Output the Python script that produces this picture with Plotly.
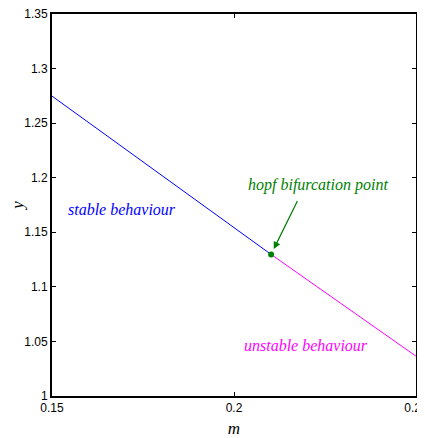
import plotly.graph_objects as go

# data
stable_m = [0.15, 0.1907, 0.2102]
stable_y = [1.2748, 1.1767, 1.1297]
unstable_m = [0.2102, 0.25]
unstable_y = [1.1297, 1.0365]
hopf_m = [0.2102]
hopf_y = [1.1297]
x_ticks = [0.15, 0.2, 0.25]
x_tick_labels = ["0.15", "0.2", "0.25"]
y_ticks = [1, 1.05, 1.1, 1.15, 1.2, 1.25, 1.3, 1.35]
y_tick_labels = ["1", "1.05", "1.1", "1.15", "1.2", "1.25", "1.3", "1.35"]

fig = go.Figure()
fig.add_trace(go.Scatter(x=stable_m, y=stable_y, mode="lines",
                         line=dict(color="#0000ff", width=1)))
fig.add_trace(go.Scatter(x=unstable_m, y=unstable_y, mode="lines",
                         line=dict(color="#ff00ff", width=1)))
fig.add_trace(go.Scatter(x=hopf_m, y=hopf_y, mode="markers",
                         marker=dict(color="#008000", size=6)))

serif = "Liberation Serif, Times New Roman, serif"
sans = "Liberation Sans, Arial, sans-serif"
fig.add_annotation(x=0.1692, y=1.1713, text="<i>stable behaviour</i>", showarrow=False,
                   font=dict(family=serif, size=16, color="#0000ff"))
fig.add_annotation(x=0.2198, y=1.0466, text="<i>unstable behaviour</i>", showarrow=False,
                   font=dict(family=serif, size=16, color="#ff00ff"))
fig.add_annotation(x=0.2231, y=1.1933, text="<i>hopf bifurcation point</i>", showarrow=False,
                   font=dict(family=serif, size=16, color="#008000"))
fig.add_annotation(x=hopf_m[0], y=hopf_y[0], text="", showarrow=True, ax=27, ay=-55,
                   arrowhead=2, arrowsize=1.2, arrowwidth=1.2, arrowcolor="#008000", standoff=6)

axis_common = dict(showgrid=False, zeroline=False, showline=True, linecolor="black",
                   linewidth=2, mirror="ticks", ticks="inside", ticklen=4, tickcolor="black",
                   automargin=False, ticklabeloverflow="allow",
                   tickfont=dict(family=sans, size=12, color="black"))
fig.update_xaxes(range=[0.15, 0.2500001], tickvals=x_ticks, ticktext=x_tick_labels,
                 title=dict(text="<i>m</i>", font=dict(family=serif, size=17, color="black"), standoff=8),
                 **axis_common)
fig.update_yaxes(range=[1, 1.35], tickvals=y_ticks, ticktext=y_tick_labels,
                 title=dict(text="<i>y</i>", font=dict(family=serif, size=17, color="black"), standoff=6),
                 **axis_common)
# page body has an 8px margin, so the margins are reduced to compensate
fig.update_layout(width=425, height=438, margin=dict(l=44, r=17, t=6, b=50),
                  plot_bgcolor="white", paper_bgcolor="white", showlegend=False)
fig.write_html("out.html")
